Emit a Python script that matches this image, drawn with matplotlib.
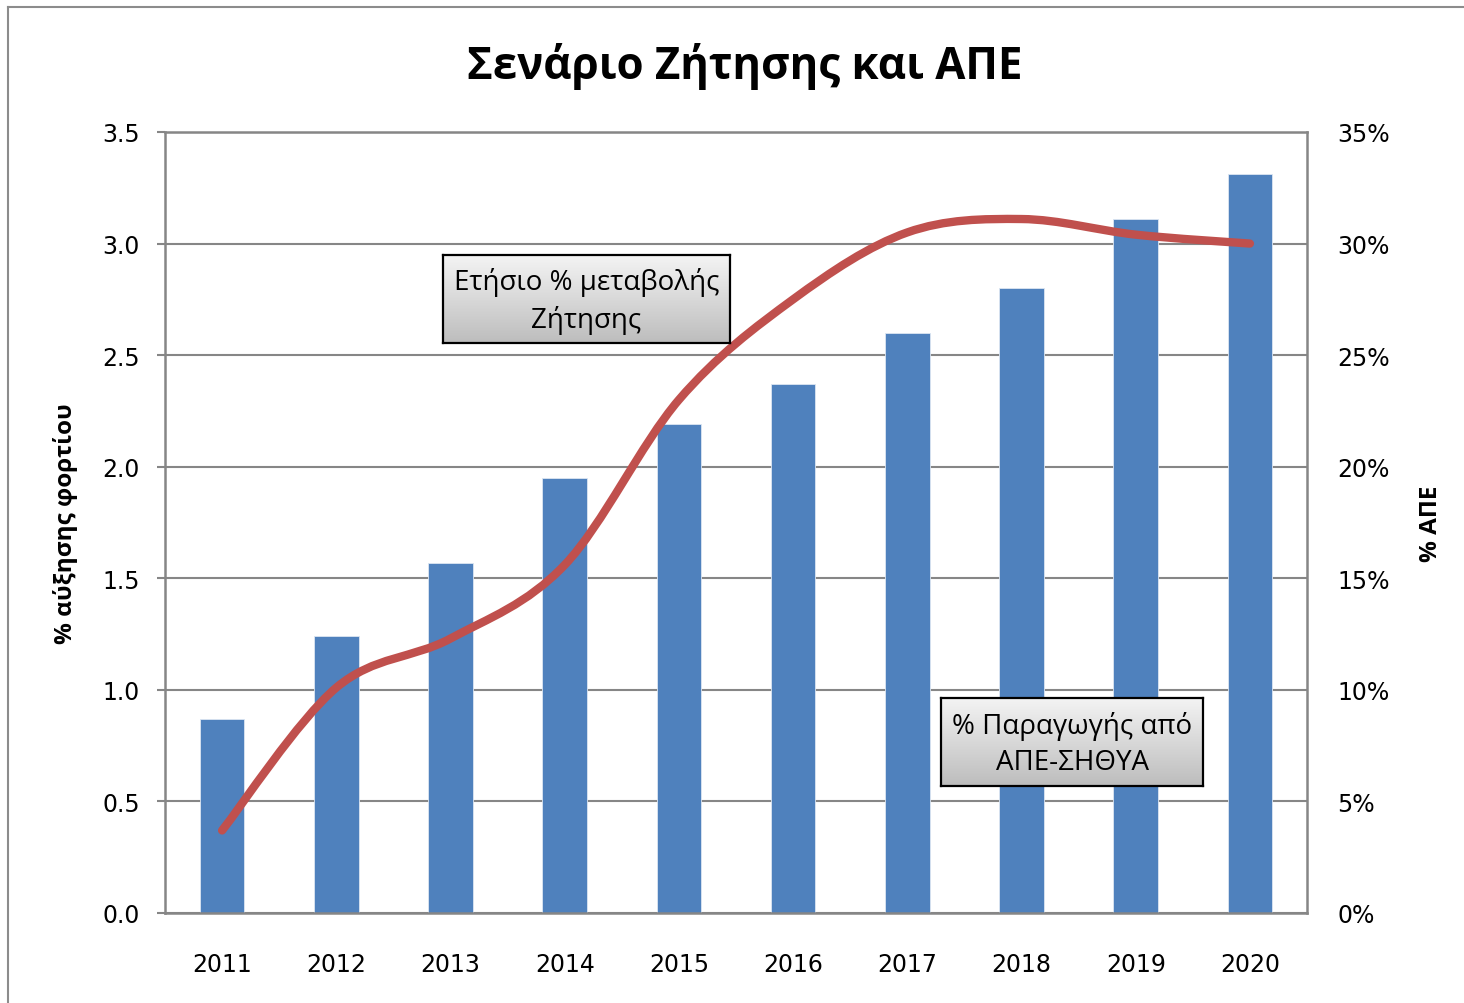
import numpy as np
import matplotlib
matplotlib.use("Agg")
import matplotlib.pyplot as plt
from matplotlib.path import Path
from matplotlib.patches import PathPatch
from matplotlib.lines import Line2D

# data
years = ["2011", "2012", "2013", "2014", "2015", "2016", "2017", "2018", "2019", "2020"]
demand_growth = [0.87, 1.24, 1.57, 1.95, 2.19, 2.37, 2.60, 2.80, 3.11, 3.31]
res_share = [3.7, 10.1, 12.3, 15.6, 23.0, 27.5, 30.5, 31.1, 30.4, 30.0]

left_ticks = [0.0, 0.5, 1.0, 1.5, 2.0, 2.5, 3.0, 3.5]
right_ticks = [0, 5, 10, 15, 20, 25, 30, 35]

BAR_COLOR = "#4F81BD"
LINE_COLOR = "#C0504D"
GRID_COLOR = "#868686"


def smooth_path(xs, ys):
    """Excel-like smoothed line: Catmull-Rom segments as cubic Bezier curves."""
    pts = np.column_stack([xs, ys]).astype(float)
    n = len(pts)
    verts = [pts[0]]
    codes = [Path.MOVETO]
    for i in range(n - 1):
        p0 = pts[max(i - 1, 0)]
        p1 = pts[i]
        p2 = pts[i + 1]
        p3 = pts[min(i + 2, n - 1)]
        c1 = p1 + (p2 - p0) / 6.0
        c2 = p2 - (p3 - p1) / 6.0
        verts += [c1, c2, p2]
        codes += [Path.CURVE4] * 3
    return Path(verts, codes)


def gradient_box(fig, rect, lines):
    """Text box with a light-to-grey vertical gradient, like the Excel callouts."""
    bx = fig.add_axes(rect)
    grad = np.linspace(0, 1, 100).reshape(-1, 1)
    bx.imshow(grad, aspect="auto", cmap=matplotlib.colors.LinearSegmentedColormap.from_list(
        "g", ["#f4f4f4", "#bdbdbd"]), extent=[0, 1, 0, 1], origin="upper")
    bx.set_xticks([])
    bx.set_yticks([])
    for s in bx.spines.values():
        s.set_color("black")
        s.set_linewidth(1.6)
    bx.text(0.5, 0.48, lines, ha="center", va="center", fontsize=20,
            family="Open Sans", linespacing=1.4, transform=bx.transAxes)
    return bx


W, H = 1464, 1004
fig = plt.figure(figsize=(W / 100, H / 100), dpi=100)

# outer chart frame (top and left edges visible)
fig.add_artist(Line2D([8 / W, 8 / W], [0, 1 - 8 / H], color="#8c8c8c", lw=1.5,
                      transform=fig.transFigure))
fig.add_artist(Line2D([8 / W, 1], [1 - 8 / H, 1 - 8 / H], color="#8c8c8c", lw=1.5,
                      transform=fig.transFigure))

ax = fig.add_axes([165 / W, 1 - 914 / H, (1307 - 165) / W, (914 - 133) / H])
x = np.arange(len(years))
ax.bar(x, demand_growth, width=0.39, color=BAR_COLOR, edgecolor="#dce6f2",
       linewidth=0.6, zorder=2)
ax.set_xlim(-0.5, len(years) - 0.5)
ax.set_ylim(0, 3.5)
ax.set_yticks(left_ticks)
ax.set_yticklabels([f"{v:.1f}" for v in left_ticks])
ax.set_xticks(x)
ax.set_xticklabels(years)
ax.yaxis.grid(True, color=GRID_COLOR, linewidth=1.5, zorder=0)
ax.set_axisbelow(True)
ax.tick_params(axis="x", length=0, pad=28, labelsize=17)
ax.tick_params(axis="y", length=6, width=1.5, color=GRID_COLOR, pad=12, labelsize=17)
for s in ax.spines.values():
    s.set_color(GRID_COLOR)
    s.set_linewidth(1.8)
ax.set_ylabel("% αύξησης φορτίου", fontsize=17.5, fontweight="bold", family="Open Sans")
ax.yaxis.set_label_coords(-0.076, 0.5)

ax2 = ax.twinx()
ax2.set_ylim(0, 35)
ax2.set_yticks(right_ticks)
ax2.set_yticklabels([f"{v}%" for v in right_ticks])
ax2.tick_params(axis="y", length=0, pad=22, labelsize=17)
for s in ax2.spines.values():
    s.set_visible(False)
ax2.add_patch(PathPatch(smooth_path(x, res_share), facecolor="none", edgecolor=LINE_COLOR,
                        linewidth=6, capstyle="round", joinstyle="round", zorder=3))
ax2.set_ylabel("% ΑΠΕ", fontsize=17.5, fontweight="bold", family="Open Sans")
ax2.yaxis.set_label_coords(1.098, 0.5)

fig.text(745 / W, 1 - 67 / H, "Σενάριο Ζήτησης και ΑΠΕ", ha="center", va="center",
         fontsize=31.5, fontweight="bold", family="Open Sans")

gradient_box(fig, [443 / W, 1 - 344 / H, (730 - 443) / W, (344 - 256) / H],
             "Ετήσιο % μεταβολής\nΖήτησης")
gradient_box(fig, [941 / W, 1 - 787 / H, (1203 - 941) / W, (787 - 699) / H],
             "% Παραγωγής από\nΑΠΕ-ΣΗΘΥΑ")

fig.savefig("out.png", dpi=100, facecolor="white")
